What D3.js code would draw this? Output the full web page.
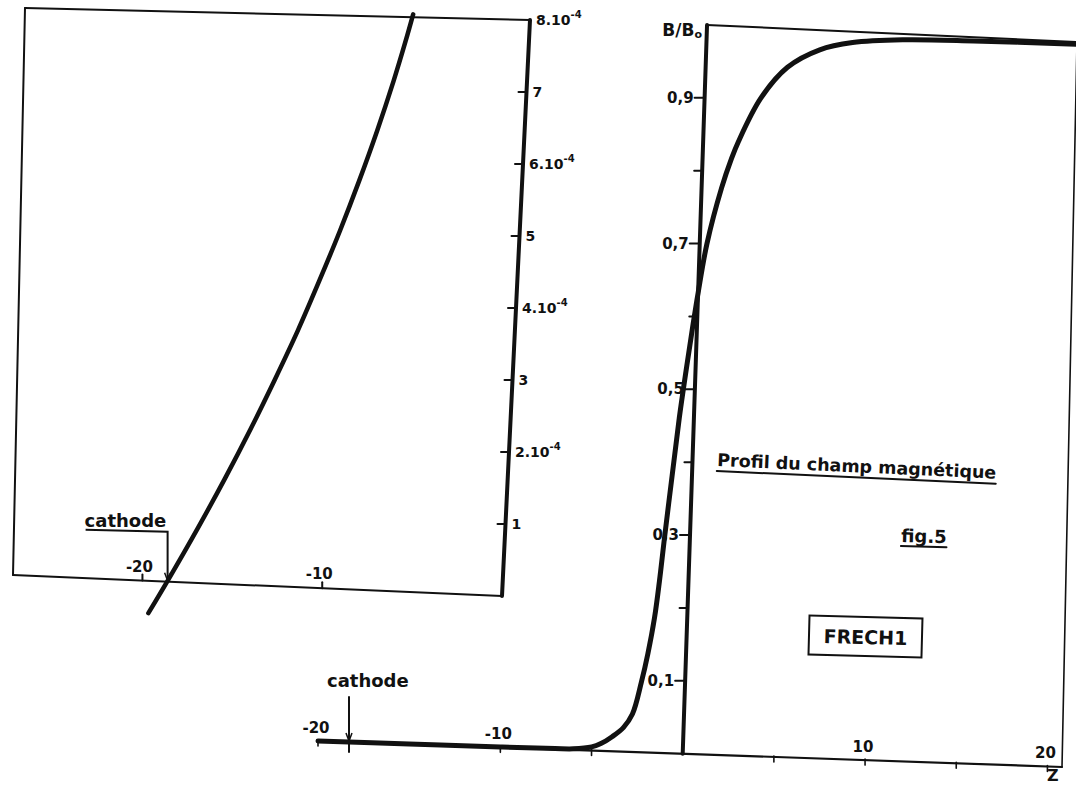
<!DOCTYPE html>
<html>
<head>
<meta charset="utf-8">
<script src="https://cdn.jsdelivr.net/npm/d3@7"></script>
<style>
  html, body { margin: 0; padding: 0; background: #fff; }
  svg { display: block; }
  text { font-family: "DejaVu Sans", sans-serif; font-weight: bold; fill: #111; }
</style>
</head>
<body>
<svg id="fig" width="1076" height="785"></svg>
<script>
// ---- Main panel: normalised magnetic field B/B0 along the axis Z ----
const profileZ = [-20, -15, -10, -7, -6, -5, -4.5, -3.9, -3.3, -2.83, -2.4, -2.1, -1.8, -1.6, -1.42,
                  -1.1, -0.81, -0.5, -0.24, 0, 0.4, 1.12, 1.61, 1.97, 3.15, 4.59, 6.37, 8.2, 11, 15, 20.8];
const profileB = [0, 0.0003, 0.0006, 0.001, 0.0015, 0.005, 0.01, 0.02, 0.033, 0.052, 0.096, 0.135, 0.185, 0.235, 0.29,
                  0.38, 0.46, 0.53, 0.585, 0.632, 0.70, 0.778, 0.818, 0.842, 0.903, 0.947, 0.973, 0.985, 0.992, 0.995, 0.997];

const bTickValues = [0.1, 0.2, 0.3, 0.4, 0.5, 0.6, 0.7, 0.8, 0.9];
const bLabelValues = [0.1, 0.3, 0.5, 0.7, 0.9];
const bLabelTexts = ["0,1", "0,3", "0,5", "0,7", "0,9"];
const zTickValues = [-20, -10, -5, 5, 10, 15, 20];
const zLabelValues = [-20, -10, 10, 20];
const zLabelTexts = ["-20", "-10", "10", "20"];
const cathodeZ = -18.3;

// ---- Inset: low-field region near the cathode, B/B0 in units of 10^-4 ----
const insetZ = [-19.62, -18.54, -17.0, -15.6, -14.28, -13.04, -11.87, -10.79, -9.78, -8.85, -7.99, -7.21, -6.65, -6.3];
const insetB = [-0.454, 0.04, 0.775, 1.48, 2.185, 2.89, 3.59, 4.30, 5.00, 5.70, 6.40, 7.10, 7.66, 8.04];

const insetYTickValues = [1, 2, 3, 4, 5, 6, 7];
const insetYLabelValues = [1, 2, 3, 4, 5, 6, 7, 8];
const insetYLabelTexts = ["1", "2.10", "3", "4.10", "5", "6.10", "7", "8.10"];
const insetYLabelExp = ["", "-4", "", "-4", "", "-4", "", "-4"];
const insetZTickValues = [-20, -10];
const insetZLabelValues = [-20, -10];
const insetZLabelTexts = ["-20", "-10"];
const insetCathodeZ = -18.6;

const svg = d3.select("#fig");

// Each panel is drawn on a slightly skewed sheet: a scale gives the
// normalised position, then the four frame corners place it on the page.
function sheet(xs, ys, c) {
  return (xv, yv) => {
    const u = xs(xv), v = ys(yv);
    const bx = c.bl[0] + u * (c.br[0] - c.bl[0]);
    const by = c.bl[1] + u * (c.br[1] - c.bl[1]);
    const tx = c.tl[0] + u * (c.tr[0] - c.tl[0]);
    const ty = c.tl[1] + u * (c.tr[1] - c.tl[1]);
    return [bx + v * (tx - bx), by + v * (ty - by)];
  };
}

const mainX = d3.scaleLinear().domain([-20, 20.8]).range([0, 1]);
const mainY = d3.scaleLinear().domain([0, 1]).range([0, 1]);
const P = sheet(mainX, mainY, { bl: [318, 741], br: [1062, 767], tl: [351.3, 8.6], tr: [1077, 42] });

const insetX = d3.scaleLinear().domain([-27.2, 0]).range([0, 1]);
const insetY = d3.scaleLinear().domain([0, 8]).range([0, 1]);
const Q = sheet(insetX, insetY, { bl: [13, 575], br: [502, 596], tl: [25, 8], tr: [530, 20] });

const seg = (g, a, b, w) => g.append("line")
  .attr("x1", a[0]).attr("y1", a[1]).attr("x2", b[0]).attr("y2", b[1])
  .attr("stroke", "#111").attr("stroke-width", w).attr("stroke-linecap", "round");

const smooth = d3.line().curve(d3.curveCatmullRom.alpha(0.5));

// ================= Inset =================
const gi = svg.append("g").attr("class", "inset");
seg(gi, Q(-27.2, 0), Q(0, 0), 2);      // Z axis
seg(gi, Q(-27.2, 0), Q(-27.2, 8), 2);  // left border
seg(gi, Q(-27.2, 8), Q(0, 8), 2);      // top border
seg(gi, Q(0, 0), Q(0, 8), 4);          // B axis

insetYTickValues.forEach(v => {
  const p = Q(0, v);
  seg(gi, [p[0] - 8, p[1]], [p[0], p[1]], 2);
});
insetYLabelValues.forEach((v, i) => {
  const p = Q(0, v);
  const t = gi.append("text").attr("x", p[0] + 6).attr("y", p[1] + 5)
    .attr("font-size", 14).text(insetYLabelTexts[i]);
  if (insetYLabelExp[i]) {
    t.append("tspan").attr("font-size", 10).attr("dy", -7).text(insetYLabelExp[i]);
  }
});
insetZTickValues.forEach(v => {
  const p = Q(v, 0);
  seg(gi, [p[0], p[1] - 6], [p[0], p[1]], 2);
});
insetZLabelValues.forEach((v, i) => {
  const p = Q(v, 0);
  gi.append("text").attr("x", p[0] - 3).attr("y", p[1] - 9)
    .attr("text-anchor", "middle").attr("font-size", 15).text(insetZLabelTexts[i]);
});

// cathode marker
{
  const c = Q(insetCathodeZ, 0);
  gi.append("text").attr("x", c[0] - 83).attr("y", c[1] - 55)
    .attr("font-size", 18).text("cathode");
  gi.append("path")
    .attr("d", `M${c[0] - 82},${c[1] - 52} L${c[0]},${c[1] - 50} L${c[0]},${c[1] - 2}`)
    .attr("fill", "none").attr("stroke", "#111").attr("stroke-width", 2);
  gi.append("path")
    .attr("d", `M${c[0] - 3},${c[1] - 9} L${c[0]},${c[1] - 1} L${c[0] + 3},${c[1] - 9}`)
    .attr("fill", "none").attr("stroke", "#111").attr("stroke-width", 1.5);
}

// field curve
gi.append("path")
  .attr("d", smooth(insetZ.map((z, i) => Q(z, insetB[i]))))
  .attr("fill", "none").attr("stroke", "#111").attr("stroke-width", 4.5)
  .attr("stroke-linecap", "round");

// ================= Main panel =================
const gm = svg.append("g").attr("class", "main");
seg(gm, P(-20, 0), P(20.8, 0), 2.2);   // Z axis
seg(gm, P(0, 1), P(20.8, 1), 2);       // top border
seg(gm, P(20.8, 0), P(20.8, 1), 1.6);  // right border
seg(gm, P(0, 0), P(0, 1), 4);          // B/B0 axis

bTickValues.forEach(v => {
  const p = P(0, v);
  const len = bLabelValues.includes(v) ? 10 : 8;
  seg(gm, [p[0] - len, p[1]], [p[0], p[1]], 2);
});
bLabelValues.forEach((v, i) => {
  const p = P(0, v);
  gm.append("text").attr("x", p[0] - 11).attr("y", p[1] + 5)
    .attr("text-anchor", "end").attr("font-size", 15).text(bLabelTexts[i]);
});
{
  const p = P(0, 1);
  const t = gm.append("text").attr("x", p[0] - 5).attr("y", p[1] + 11)
    .attr("text-anchor", "end").attr("font-size", 17).text("B/B");
  t.append("tspan").attr("font-size", 11).attr("dy", 2).text("o");
}

zTickValues.forEach(v => {
  const p = P(v, 0);
  seg(gm, [p[0], p[1] - 1], [p[0], p[1] + 5], 1.6);
});
zLabelValues.forEach((v, i) => {
  const p = P(v, 0);
  gm.append("text").attr("x", p[0] - 2).attr("y", p[1] - 8)
    .attr("text-anchor", "middle").attr("font-size", 15).text(zLabelTexts[i]);
});
{
  const p = P(20.3, 0);
  gm.append("text").attr("x", p[0]).attr("y", p[1] + 14)
    .attr("text-anchor", "middle").attr("font-size", 16).text("Z");
}

// cathode marker
{
  const c = P(cathodeZ, 0);
  gm.append("text").attr("x", c[0] - 22).attr("y", c[1] - 55)
    .attr("font-size", 18).text("cathode");
  seg(gm, [c[0], c[1] - 45], [c[0], c[1] + 10], 2);
  gm.append("path")
    .attr("d", `M${c[0] - 3},${c[1] - 9} L${c[0]},${c[1] - 1} L${c[0] + 3},${c[1] - 9}`)
    .attr("fill", "none").attr("stroke", "#111").attr("stroke-width", 1.5);
}

// field profile
gm.append("path")
  .attr("d", smooth(profileZ.map((z, i) => P(z, profileB[i]))))
  .attr("fill", "none").attr("stroke", "#111").attr("stroke-width", 5)
  .attr("stroke-linecap", "round").attr("stroke-linejoin", "round");

// ---- annotations ----
const ga = svg.append("g").attr("class", "notes");
{
  const g = ga.append("g").attr("transform", "rotate(2.6, 717, 466)");
  const t = g.append("text").attr("x", 717).attr("y", 466).attr("font-size", 17.5)
    .text("Profil du champ magnétique");
  const w = t.node().getComputedTextLength();
  seg(g, [717, 471], [717 + w, 471], 2);
}
{
  const g = ga.append("g").attr("transform", "rotate(1.5, 901, 542)");
  const t = g.append("text").attr("x", 901).attr("y", 542).attr("font-size", 18).text("fig.5");
  const w = t.node().getComputedTextLength();
  seg(g, [901, 546], [901 + w, 546], 2);
}
{
  const g = ga.append("g").attr("transform", "rotate(1.5, 865, 636)");
  g.append("rect").attr("x", 809).attr("y", 617).attr("width", 113).attr("height", 39)
    .attr("fill", "none").attr("stroke", "#111").attr("stroke-width", 2);
  g.append("text").attr("x", 865.5).attr("y", 644).attr("text-anchor", "middle")
    .attr("font-size", 19).text("FRECH1");
}
</script>
</body>
</html>
